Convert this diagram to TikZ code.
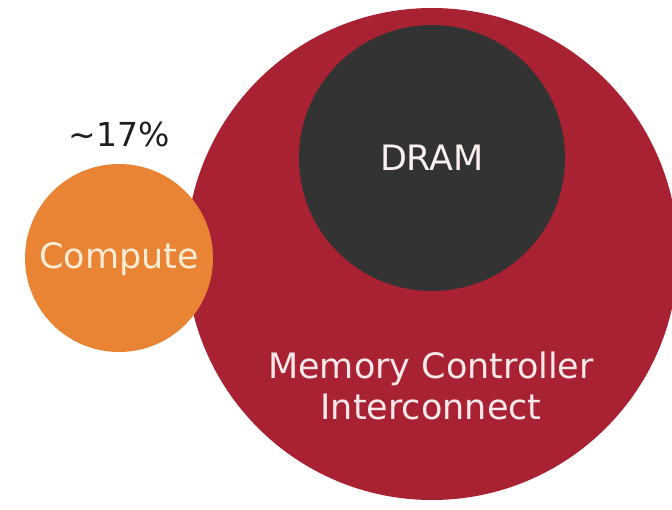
\documentclass[tikz,border=0pt]{standalone}
\usepackage{fontspec}
\setmainfont{DejaVu Sans}
\definecolor{mcred}{HTML}{A92234}
\definecolor{dramgray}{HTML}{333333}
\definecolor{computeorange}{HTML}{E88434}
\definecolor{labelink}{HTML}{1E1E1E}
\begin{document}
\begin{tikzpicture}[x=1pt,y=-1pt,
  blob/.style={circle,inner sep=0pt,draw=none},
  biglabel/.style={font=\fontsize{35}{41}\selectfont,align=center,inner sep=0pt}]
  \useasboundingbox (0,0) rectangle (672,510);
  \clip (0,0) rectangle (672,510);
  % memory controller / interconnect
  \node[blob,fill=mcred,minimum size=492pt] (mc) at (432,254) {};
  % DRAM
  \node[blob,fill=dramgray,minimum size=266pt] (dram) at (432,158) {};
  % compute
  \node[blob,fill=computeorange,minimum size=188pt] (comp) at (119,258) {};
  % labels
  \node[biglabel,text={rgb,255:red,250;green,240;blue,240}] (dramtxt) at (432,158) {DRAM};
  \node[biglabel,text={rgb,255:red,252;green,236;blue,214}] (comptxt) at (119,259) {Compute};
  \node[biglabel,text={rgb,255:red,248;green,232;blue,234}] (mctxt) at (431,386) {Memory Controller\\Interconnect};
  \node[biglabel,font=\fontsize{33}{40}\selectfont,text=labelink] (pct) at (119,134) {{\char"223C}17\%};
\end{tikzpicture}
\end{document}
